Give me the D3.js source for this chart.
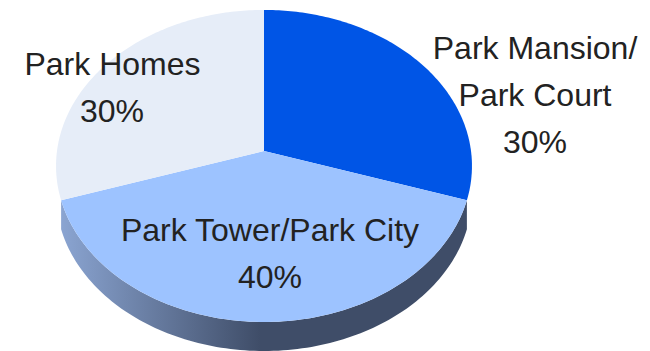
<!DOCTYPE html>
<html>
<head>
<meta charset="utf-8">
<script src="https://cdn.jsdelivr.net/npm/d3@7"></script>
<style>
html,body{margin:0;padding:0;background:#fff}
svg{display:block}
text{font-family:"Liberation Sans",Arial,sans-serif;font-size:32px;fill:#222;text-anchor:middle}
</style>
</head>
<body>
<script>
const categories = ["Park Mansion/Park Court", "Park Tower/Park City", "Park Homes"];
const shares = [30, 40, 30];
const sliceColors = ["#0055e6", "#9dc3ff", "#e6edf8"];
const labelLines = [
  [["Park Mansion/", 535, 59], ["Park Court", 535, 106], ["30%", 535, 153]],
  [["Park Tower/Park City", 270, 241], ["40%", 270, 288]],
  [["Park Homes", 112.5, 75], ["30%", 112, 122]]
];

const width = 650, height = 351;
const svg = d3.select("body").append("svg").attr("width", width).attr("height", height);

// Tilted disc: unit-circle coordinates are taken through a perspective divide
const cx = 264, cy = 151, scaleX = 207, scaleY = 154.6, persp = -0.096, depth = 29;
const project = (angle, drop = 0) => {
  const u = Math.sin(angle), v = -Math.cos(angle), w = 1 + persp * v;
  return [cx + scaleX * u / w, cy + scaleY * v / w + drop];
};
const rim = (a0, a1, drop = 0) =>
  d3.range(0, 121).map(i => project(a0 + (a1 - a0) * i / 120, drop));

const arcs = d3.pie().sort(null).value(d => d)(shares);
const line = d3.line();

const defs = svg.append("defs");
const sideGrad = defs.append("linearGradient").attr("id", "side")
  .attr("gradientUnits", "userSpaceOnUse")
  .attr("x1", 60).attr("x2", 260).attr("y1", 0).attr("y2", 0);
sideGrad.append("stop").attr("offset", 0).attr("stop-color", "#8ba5d2");
sideGrad.append("stop").attr("offset", 1).attr("stop-color", "#3f4d68");

// Wall of the disc, visible only along the front slice
const front = arcs[1];
svg.append("path")
  .attr("d", line([...rim(front.startAngle, front.endAngle),
                   ...rim(front.endAngle, front.startAngle, depth)]) + "Z")
  .attr("fill", "url(#side)");

// Top face
svg.selectAll("path.slice").data(arcs).join("path")
  .attr("class", "slice")
  .attr("d", d => line([[cx, cy], ...rim(d.startAngle, d.endAngle)]) + "Z")
  .attr("fill", (d, i) => sliceColors[i]);

svg.selectAll("text").data(labelLines.flat()).join("text")
  .attr("x", d => d[1]).attr("y", d => d[2]).text(d => d[0]);
</script>
</body>
</html>
